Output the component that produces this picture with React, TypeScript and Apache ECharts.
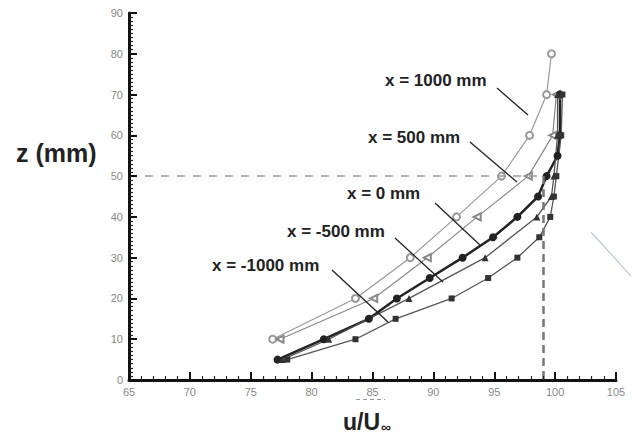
import React, { useEffect, useRef } from "react";
import * as echarts from "echarts";

// z (mm) heights and u/U∞ values (%) for each station
const z1000 = [10, 20, 30, 40, 50, 60, 70, 80];
const u1000 = [76.8, 83.6, 88.1, 91.9, 95.6, 97.9, 99.3, 99.7];
const z500 = [10, 20, 30, 40, 50, 60, 70];
const u500 = [77.4, 85.1, 89.5, 93.6, 97.8, 99.8, 100.1];
const z0 = [5, 10, 15, 20, 25, 30, 35, 40, 45, 50, 55, 60, 70];
const u0 = [77.2, 81.0, 84.7, 87.0, 89.7, 92.4, 94.9, 96.9, 98.6, 99.3, 100.2, 100.4, 100.4];
const zm500 = [5, 10, 20, 30, 40, 45, 50, 60, 70];
const um500 = [77.6, 81.4, 88.0, 94.25, 98.5, 99.7, 99.9, 100.2, 100.2];
const zm1000 = [5, 10, 15, 20, 25, 30, 35, 40, 45, 50, 60, 70];
const um1000 = [78.0, 83.6, 86.9, 91.5, 94.5, 96.9, 98.7, 99.6, 99.9, 100.1, 100.5, 100.6];

const labels = ["x = 1000 mm", "x = 500 mm", "x = 0 mm", "x = -500 mm", "x = -1000 mm"];
const refU = 99;
const refZ = 50;

const pair = (u: number[], z: number[]) => u.map((v, i) => [v, z[i]]);

const FONT = "Liberation Sans, Arial, sans-serif";

export default function App() {
  const ref = useRef<HTMLDivElement>(null);
  useEffect(() => {
    const chart = echarts.init(ref.current!, null, { renderer: "svg" });

    const labelPos = [
      [385, 80],
      [368, 137],
      [347, 193],
      [287, 231],
      [212, 265],
    ];
    const leaders = [
      [497, 88, 528, 115],
      [470, 142, 517, 182],
      [435, 203, 480, 245],
      [395, 238, 443, 282],
      [332, 270, 388, 322],
    ];

    const textItem = (x: number, y: number, text: string, size: number) => ({
      x,
      y,
      symbol: "circle",
      symbolSize: 0,
      itemStyle: { color: "transparent" },
      label: {
        show: true,
        position: "right",
        distance: 0,
        formatter: text,
        color: "#222",
        fontSize: size,
        fontWeight: "bold",
        fontFamily: FONT,
      },
    });

    const markPoints: any[] = labels.map((t, i) => textItem(labelPos[i][0], labelPos[i][1], t, 17));
    markPoints.push(textItem(16, 153, "z (mm)", 25));
    markPoints.push({
      x: 343,
      y: 422,
      symbol: "circle",
      symbolSize: 0,
      itemStyle: { color: "transparent" },
      label: {
        show: true,
        position: "right",
        distance: 0,
        formatter: "{a|u/U}{b|∞}",
        rich: {
          a: { fontSize: 23, fontWeight: "bold", fontFamily: FONT, color: "#222", verticalAlign: "bottom" },
          b: { fontSize: 14, fontWeight: "bold", fontFamily: FONT, color: "#222", verticalAlign: "bottom", padding: [0, 0, 0, 1] },
        },
      },
    });

    const lines: any[] = [
      [
        { coord: [65, refZ], lineStyle: { color: "#999", width: 1.5, type: [8, 8] } },
        { coord: [refU, refZ] },
      ],
      [
        { coord: [refU, refZ], lineStyle: { color: "#777", width: 2.5, type: [8, 5] } },
        { coord: [refU, 0] },
      ],
    ];
    leaders.forEach((l) => {
      lines.push([
        { x: l[0], y: l[1], lineStyle: { color: "#222", width: 1.3, type: "solid" } },
        { x: l[2], y: l[3] },
      ]);
    });
    lines.push([
      { x: 356, y: 399, lineStyle: { color: "#999", width: 1, type: [4, 3] } },
      { x: 385, y: 399 },
    ]);
    lines.push([
      { x: 591, y: 232, lineStyle: { color: "#b9c9d9", width: 1.2, type: "solid" } },
      { x: 631, y: 276 },
    ]);

    chart.setOption({
      animation: false,
      grid: { left: 129, top: 13, width: 487, height: 367 },
      xAxis: {
        type: "value",
        min: 65,
        max: 105,
        interval: 5,
        z: 20,
        axisLine: { show: true, onZero: false, lineStyle: { color: "#111", width: 3, opacity: 1 } },
        axisTick: { show: true, inside: true, length: 8, lineStyle: { color: "#111", width: 2, opacity: 1 } },
        minorTick: { show: true, splitNumber: 5, length: 4, lineStyle: { color: "#222", width: 1.2, opacity: 1 } },
        splitLine: { show: false },
        axisLabel: { color: "#888", fontSize: 11, fontFamily: FONT, margin: 6 },
      },
      yAxis: {
        type: "value",
        min: 0,
        max: 90,
        interval: 10,
        z: 20,
        axisLine: { show: true, onZero: false, lineStyle: { color: "#111", width: 3, opacity: 1 } },
        axisTick: { show: true, inside: true, length: 8, lineStyle: { color: "#111", width: 2, opacity: 1 } },
        minorTick: { show: true, splitNumber: 10, length: 4, lineStyle: { color: "#222", width: 1.2, opacity: 1 } },
        splitLine: { show: false },
        axisLabel: { color: "#888", fontSize: 11, fontFamily: FONT, margin: 6 },
      },
      series: [
        {
          name: labels[0],
          type: "line",
          data: pair(u1000, z1000),
          symbol: "emptyCircle",
          symbolSize: 7,
          lineStyle: { color: "#999", width: 1.2 },
          itemStyle: { color: "#999", borderColor: "#999", borderWidth: 1.5 },
        },
        {
          name: labels[1],
          type: "line",
          data: pair(u500, z500),
          symbol: "emptyTriangle",
          symbolSize: 7,
          symbolRotate: 90,
          lineStyle: { color: "#888", width: 1.2 },
          itemStyle: { color: "#888", borderColor: "#888", borderWidth: 1.5 },
        },
        {
          name: labels[2],
          type: "line",
          clip: false,
          data: pair(u0, z0),
          symbol: "circle",
          symbolSize: 8,
          lineStyle: { color: "#222", width: 2.5 },
          itemStyle: { color: "#222" },
          markLine: {
            silent: true,
            symbol: "none",
            label: { show: false },
            data: lines,
          },
          markPoint: {
            silent: true,
            data: markPoints,
          },
        },
        {
          name: labels[3],
          type: "line",
          data: pair(um500, zm500),
          symbol: "triangle",
          symbolSize: 7,
          lineStyle: { color: "#555", width: 1.3 },
          itemStyle: { color: "#333" },
        },
        {
          name: labels[4],
          type: "line",
          data: pair(um1000, zm1000),
          symbol: "rect",
          symbolSize: 6,
          lineStyle: { color: "#555", width: 1.3 },
          itemStyle: { color: "#333" },
        },
      ],
    });
    return () => chart.dispose();
  }, []);
  return (
    <div
      ref={ref}
      style={{ position: "absolute", left: 0, top: 0, width: 633, height: 440, background: "#fff" }}
    />
  );
}
